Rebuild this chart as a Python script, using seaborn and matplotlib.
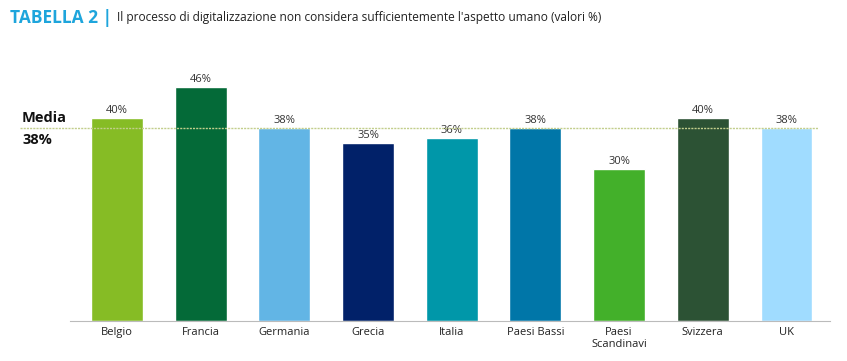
import matplotlib
matplotlib.use("Agg")
import matplotlib.pyplot as plt
import seaborn as sns
import pandas as pd

categories = ["Belgio", "Francia", "Germania", "Grecia", "Italia", "Paesi Bassi", "Paesi\nScandinavi", "Svizzera", "UK"]
values = [40, 46, 38, 35, 36, 38, 30, 40, 38]
colors = ["#86BC25", "#046A38", "#62B5E5", "#012169", "#0097A9", "#0076A8", "#43B02A", "#2C5234", "#A0DCFF"]
media = 38

sns.set_theme(style="white")
plt.rcParams['font.family'] = ['Open Sans', 'DejaVu Sans']

df = pd.DataFrame({"cat": categories, "val": values})

fig = plt.figure(figsize=(8.47, 3.61), dpi=100)
ax = fig.add_axes([70/847, 40/361, 760/847, 254/361])
sns.barplot(data=df, x="cat", y="val", hue="cat", palette=colors, legend=False,
            width=0.62, saturation=1, ax=ax)
ax.set_xlim(-0.56, 8.52)
ax.set_ylim(0, 50)
for i, v in enumerate(values):
    ax.text(i, v + 0.4, f"{v}%", ha="center", va="bottom", fontsize=8, color="#333333")

# media line across figure
y_fig = (40 + media * 254 / 50) / 361
fig.add_artist(plt.Line2D([20/847, 818/847], [y_fig, y_fig], color="#C2CE8C",
                          lw=1.0, linestyle=(0, (1.5, 0.8)), zorder=5))
fig.text(22/847, (361-118)/361, "Media", fontsize=10.5, fontweight="bold", ha="left", va="center", color="#111111")
fig.text(22/847, (361-140)/361, "38%", fontsize=10.5, fontweight="bold", ha="left", va="center", color="#111111")

ax.set_xlabel("")
ax.set_ylabel("")
ax.set_yticks([])
ax.tick_params(axis="x", labelsize=8, colors="#222222", length=0, pad=4)
for s in ["top", "right", "left"]:
    ax.spines[s].set_visible(False)
ax.spines["bottom"].set_color("#BBBBBB")
ax.spines["bottom"].set_linewidth(0.8)

fig.text(10/847, (361-18)/361, "TABELLA 2 |", fontsize=12.5, fontweight="bold", color="#1EA5DC", ha="left", va="center")
fig.text(117/847, (361-18)/361, "Il processo di digitalizzazione non considera sufficientemente l'aspetto umano (valori %)",
         fontsize=8.6, color="#222222", ha="left", va="center")

fig.savefig("out.png", dpi=100)
